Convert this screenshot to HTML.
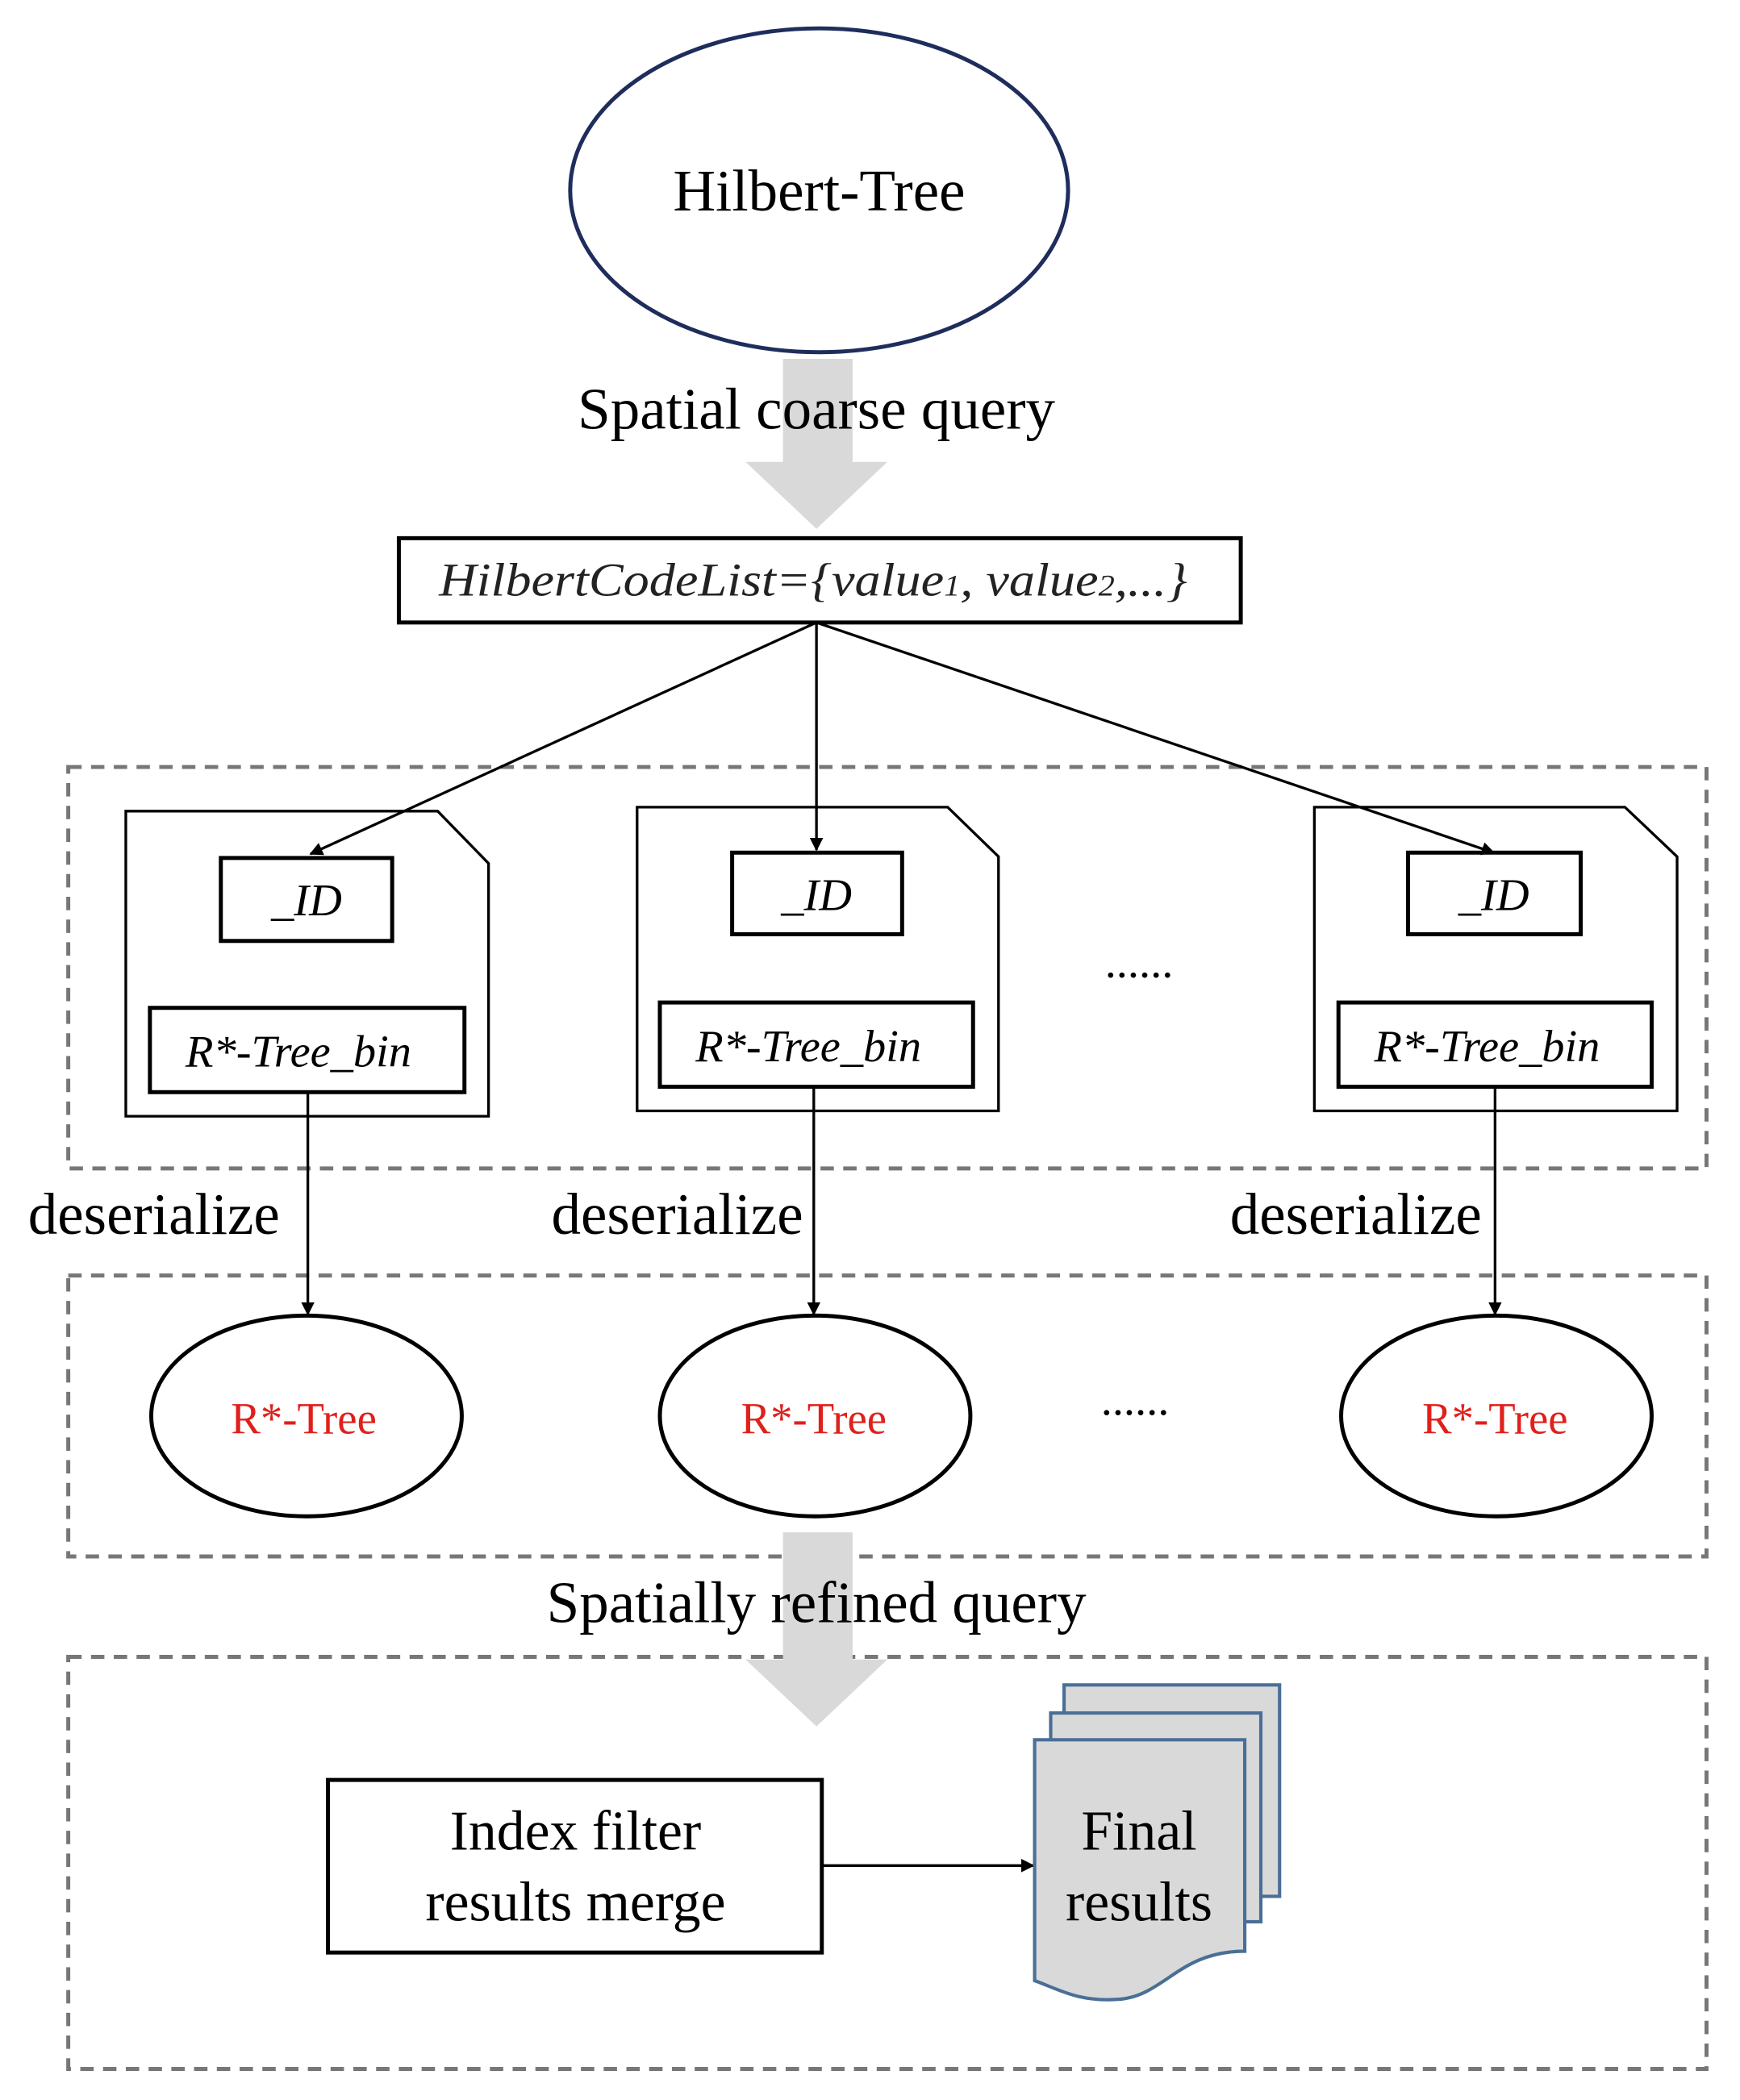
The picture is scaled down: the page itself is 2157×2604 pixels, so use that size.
<!DOCTYPE html>
<html><head><meta charset="utf-8"><style>
html,body{margin:0;padding:0;background:#fff;}
svg{display:block;}
</style></head><body>
<svg width="2157" height="2604" viewBox="0 0 1300 1569" xmlns="http://www.w3.org/2000/svg" font-family="'Liberation Serif', serif">
<defs>
<marker id="ah" markerWidth="10" markerHeight="10" refX="9" refY="5" orient="auto" markerUnits="userSpaceOnUse" viewBox="0 0 10 10">
<path d="M0,0 L10,5 L0,10 z" fill="#000"/>
</marker>
</defs>
<rect width="1300" height="1569" fill="#fff"/>
<ellipse cx="612" cy="142" rx="186" ry="121" fill="#fff" stroke="#1f2d5c" stroke-width="3"/>
<text x="612" y="157" font-size="44" text-anchor="middle">Hilbert-Tree</text>
<path d="M585,268 H637 V345 H663 L610,395 L557,345 H585 Z" fill="#d9d9d9"/>
<text x="610" y="320" font-size="44" text-anchor="middle">Spatial coarse query</text>
<rect x="298" y="402" width="629" height="63" fill="#fff" stroke="#000" stroke-width="3"/>
<text x="328" y="445" font-size="35" font-style="italic" fill="#222" textLength="559" lengthAdjust="spacingAndGlyphs">HilbertCodeList={value<tspan font-size="22">1</tspan>, value<tspan font-size="22">2</tspan>,...}</text>
<g fill="none" stroke="#777" stroke-width="3" stroke-dasharray="10,7">
<rect x="51" y="573" width="1224" height="300"/>
<rect x="51" y="953" width="1224" height="210"/>
<rect x="51" y="1238" width="1224" height="308"/>
</g>
<g fill="#fff" stroke="#000" stroke-width="2">
<path d="M94,606 H327 L365,645 V834 H94 Z"/>
<path d="M476,603 H708 L746,640 V830 H476 Z"/>
<path d="M982,603 H1214 L1253,640 V830 H982 Z"/>
</g>
<g fill="#fff" stroke="#000" stroke-width="3">
<rect x="165" y="641" width="128" height="62"/>
<rect x="547" y="637" width="127" height="61"/>
<rect x="1052" y="637" width="129" height="61"/>
<rect x="112" y="753" width="235" height="63"/>
<rect x="493" y="749" width="234" height="63"/>
<rect x="1000" y="749" width="234" height="63"/>
</g>
<g font-size="34" font-style="italic" text-anchor="middle">
<text x="229" y="684">_ID</text>
<text x="610" y="680">_ID</text>
<text x="1116" y="680">_ID</text>
<text x="223" y="797">R*-Tree_bin</text>
<text x="604" y="793">R*-Tree_bin</text>
<text x="1111" y="793">R*-Tree_bin</text>
</g>
<text x="851" y="730" font-size="34" text-anchor="middle">......</text>
<g stroke="#000" stroke-width="2" marker-end="url(#ah)">
<line x1="610" y1="465" x2="232" y2="638"/>
<line x1="610" y1="465" x2="610" y2="635"/>
<line x1="610" y1="465" x2="1116" y2="637"/>
<line x1="230" y1="816" x2="230" y2="982"/>
<line x1="608" y1="812" x2="608" y2="982"/>
<line x1="1117" y1="812" x2="1117" y2="982"/>
<line x1="614" y1="1394" x2="772" y2="1394"/>
</g>
<g font-size="44" text-anchor="middle">
<text x="115" y="922">deserialize</text>
<text x="506" y="922">deserialize</text>
<text x="1013" y="922">deserialize</text>
</g>
<g fill="#fff" stroke="#000" stroke-width="3">
<ellipse cx="229" cy="1058" rx="116" ry="75"/>
<ellipse cx="609" cy="1058" rx="116" ry="75"/>
<ellipse cx="1118" cy="1058" rx="116" ry="75"/>
</g>
<g font-size="33" fill="#e0201b" text-anchor="middle">
<text x="227" y="1071">R*-Tree</text>
<text x="608" y="1071">R*-Tree</text>
<text x="1117" y="1071">R*-Tree</text>
</g>
<text x="848" y="1057" font-size="34" text-anchor="middle">......</text>
<path d="M585,1145 H637 V1240 H663 L610,1290 L557,1240 H585 Z" fill="#d9d9d9"/>
<text x="610" y="1212" font-size="44" text-anchor="middle">Spatially refined query</text>
<rect x="245" y="1330" width="369" height="129" fill="#fff" stroke="#000" stroke-width="3"/>
<text x="430" y="1382" font-size="42" text-anchor="middle">Index filter</text>
<text x="430" y="1435" font-size="42" text-anchor="middle">results merge</text>
<g fill="#d9d9d9" stroke="#4a6f96" stroke-width="2.5">
<rect x="795" y="1259" width="161" height="158"/>
<rect x="785" y="1280" width="157" height="156"/>
<path d="M773,1300 H930 V1458 C880,1458 870,1492 835,1494 C805,1496 790,1486 773,1480 Z"/>
</g>
<text x="851" y="1382" font-size="42" text-anchor="middle">Final</text>
<text x="851" y="1435" font-size="42" text-anchor="middle">results</text>
</svg>
</body></html>
